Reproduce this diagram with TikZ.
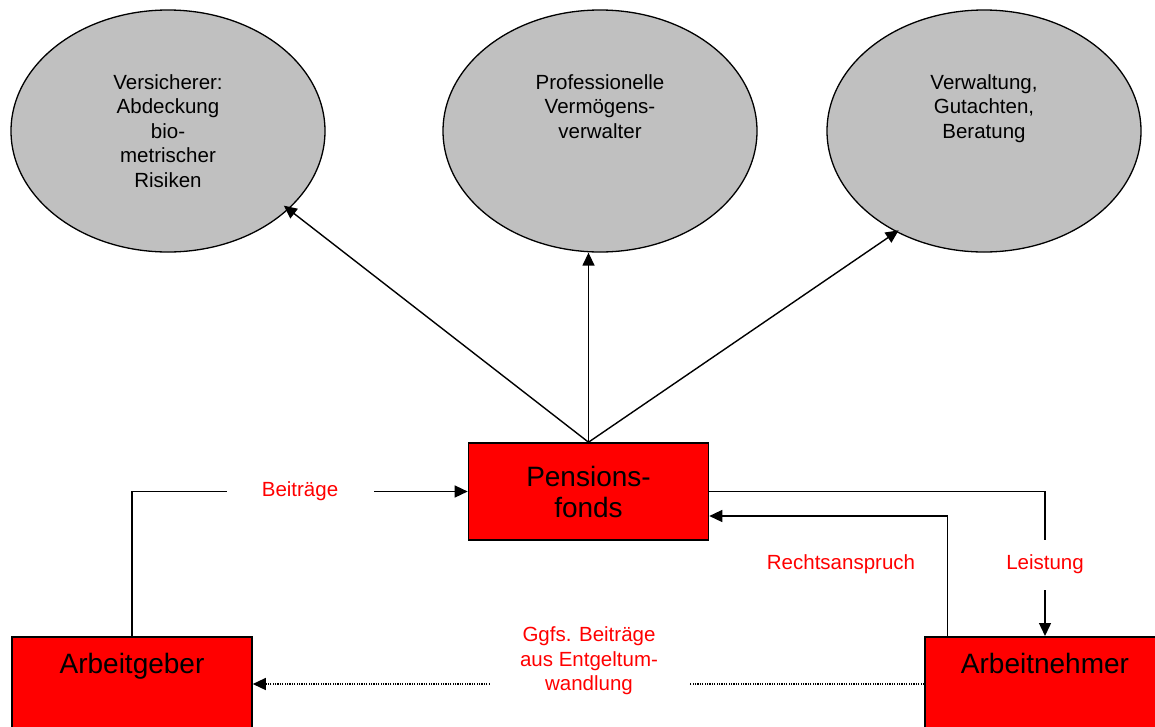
\documentclass[tikz,border=0pt]{standalone}
\usepackage{fontspec}
\setmainfont{Liberation Sans}
\usetikzlibrary{shapes.geometric,arrows.meta}
\definecolor{ellgray}{HTML}{C0C0C0}
\definecolor{boxred}{HTML}{FF0000}
\begin{document}
\begin{tikzpicture}[x=1pt,y=-1pt,
  ell/.style={ellipse, draw=black, line width=1.3pt, fill=ellgray, minimum width=314pt, minimum height=242pt, inner sep=0pt},
  etext/.style={align=center, font=\fontsize{20.5}{24.5}\selectfont, inner sep=0pt, anchor=north},
  rbox/.style={draw=black, line width=1.6pt, fill=boxred, minimum width=240pt, inner sep=0pt, align=center, font=\fontsize{28}{31}\selectfont},
  btext/.style={font=\fontsize{28}{31}\selectfont, inner sep=0pt, anchor=base},
  lbl/.style={text=boxred, font=\fontsize{20.5}{24.5}\selectfont, align=center, inner sep=0pt},
  conn/.style={line width=1.4pt, -{Triangle[length=13pt,width=12pt]}},
]
\clip (0,0) rectangle (1155,726);
\fill[white] (0,0) rectangle (1155,726);
% ellipses
\node[ell] (e1) at (168,131) {};
\node[ell] (e2) at (600,131) {};
\node[ell] (e3) at (984,131) {};
\node[etext] (t1) at (168,74) {Versicherer:\\Abdeckung\\bio-\\metrischer\\Risiken};
\node[etext] (t2) at (600,74) {Professionelle\\Vermögens-\\verwalter};
\node[etext] (t3) at (984,74) {Verwaltung,\\Gutachten,\\Beratung};
% boxes
\node[rbox, minimum height=97pt] (pf) at (588.5,491.5) {Pensions-\\fonds};
\node[rbox, minimum height=120pt, anchor=north] (ag) at (132,636) {};
\node[rbox, minimum height=120pt, anchor=north] (an) at (1045,636) {};
\node[btext] (agt) at (132,673) {Arbeitgeber};
\node[btext] (ant) at (1045,673) {Arbeitnehmer};
% connectors to ellipses
\draw[conn, shorten >=-6pt] (pf.north) -- (e1.-33.5);
\draw[conn] (pf.north) -- (pf.north |- e2.south);
\draw[conn, shorten >=-3pt] (pf.north) -- (e3.-131.3);
% flows
\draw[conn] (ag.north) |- (pf.west);
\draw[conn] (pf.east) -| (an.north);
\draw[conn] ([xshift=23pt]an.north west) |- ([yshift=-24.5pt]pf.east);
\draw[conn, dash pattern=on 1.2pt off 1.2pt] ([yshift=-48pt]an.north west) -- ([yshift=-48pt]ag.north east);
% labels
\node[lbl, fill=white, minimum width=147pt, minimum height=22pt] (lb1) at (300,491.5) {Beiträge};
\node[lbl, fill=white, minimum width=80pt, minimum height=50pt] (lb2) at (1045,564.5) {Leistung};
\node[lbl] (lb3) at (841,564.5) {Rechtsanspruch};
\node[lbl, fill=white, minimum width=199pt] (lb4) at (589,661) {Ggfs. Beiträge\\aus Entgeltum-\\wandlung};
\end{tikzpicture}
\end{document}
